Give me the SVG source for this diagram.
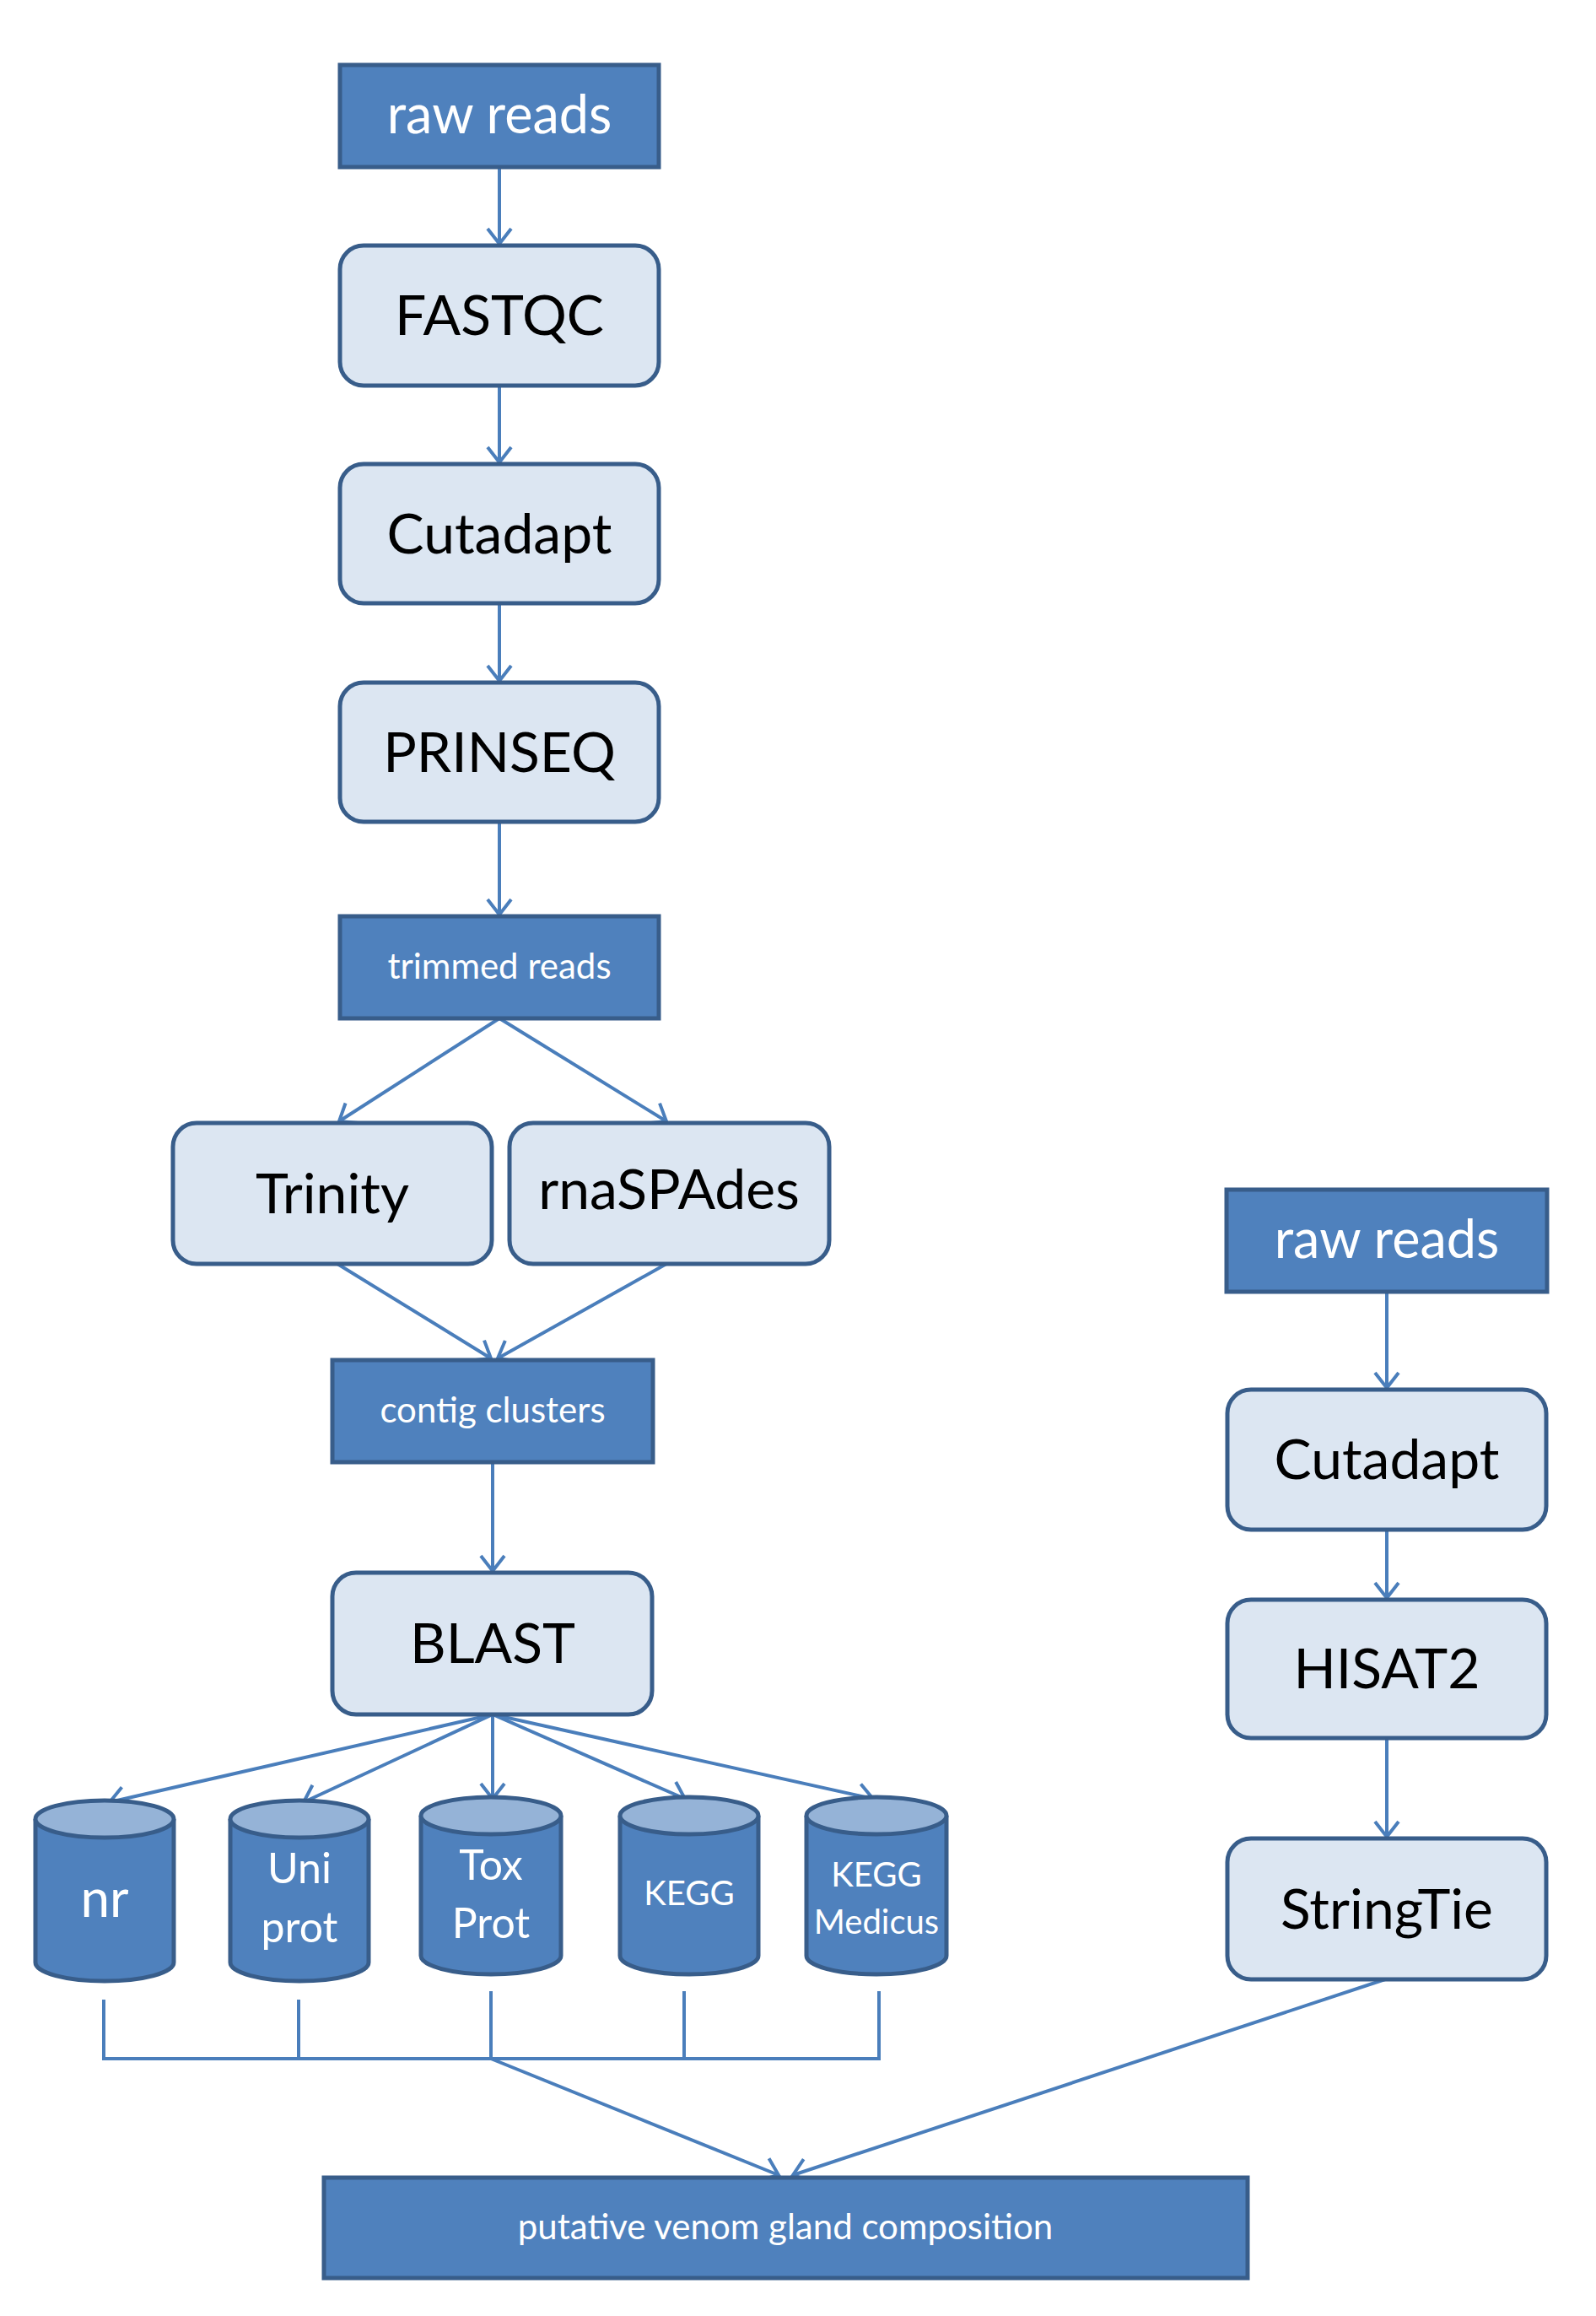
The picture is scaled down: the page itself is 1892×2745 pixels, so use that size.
<svg xmlns="http://www.w3.org/2000/svg" width="1892" height="2745" viewBox="0 0 1892 2745">
<style>
.d{fill:#4f81bd;stroke:#385d8a;stroke-width:5}
.l{fill:#dce6f2;stroke:#385d8a;stroke-width:5}
.c{fill:none;stroke:#4a7ebb;stroke-width:4}
.tw{fill:#fff;font-family:Lato,"Open Sans",sans-serif;text-anchor:middle}
.tb{fill:#000;font-family:Lato,"Open Sans",sans-serif;text-anchor:middle;font-size:66px}
.top{fill:#95b3d7;stroke:#385d8a;stroke-width:5}
</style>
<defs>
<marker id="a" markerUnits="userSpaceOnUse" markerWidth="40" markerHeight="40" refX="20" refY="20" orient="auto">
<path d="M2,6 L20,20 L2,34" fill="none" stroke="#4a7ebb" stroke-width="4"/>
</marker>
</defs>
<g id="connectors" class="c">
<line x1="592" y1="198" x2="592" y2="289" marker-end="url(#a)"/>
<line x1="592" y1="457" x2="592" y2="548" marker-end="url(#a)"/>
<line x1="592" y1="715" x2="592" y2="807" marker-end="url(#a)"/>
<line x1="592" y1="974" x2="592" y2="1084" marker-end="url(#a)"/>
<line x1="592" y1="1207" x2="402" y2="1329" marker-end="url(#a)"/>
<line x1="592" y1="1207" x2="790" y2="1329" marker-end="url(#a)"/>
<line x1="400" y1="1498" x2="582" y2="1610" marker-end="url(#a)"/>
<line x1="790" y1="1498" x2="590" y2="1610" marker-end="url(#a)"/>
<line x1="584" y1="1733" x2="584" y2="1862" marker-end="url(#a)"/>
<line x1="584" y1="2032" x2="130" y2="2136" marker-end="url(#a)"/>
<line x1="584" y1="2032" x2="360" y2="2136" marker-end="url(#a)"/>
<line x1="584" y1="2032" x2="584" y2="2132" marker-end="url(#a)"/>
<line x1="584" y1="2032" x2="812" y2="2132" marker-end="url(#a)"/>
<line x1="584" y1="2032" x2="1035" y2="2132" marker-end="url(#a)"/>
<polyline points="123,2370 123,2440 1042,2440 1042,2360"/>
<line x1="354" y1="2370" x2="354" y2="2440"/>
<line x1="582" y1="2360" x2="582" y2="2440"/>
<line x1="811" y1="2360" x2="811" y2="2440"/>
<line x1="582" y1="2440" x2="923" y2="2578" marker-end="url(#a)"/>
<line x1="1642" y1="2346" x2="940" y2="2578" marker-end="url(#a)"/>
<line x1="1644" y1="1531" x2="1644" y2="1645" marker-end="url(#a)"/>
<line x1="1644" y1="1813" x2="1644" y2="1894" marker-end="url(#a)"/>
<line x1="1644" y1="2060" x2="1644" y2="2177" marker-end="url(#a)"/>
</g>
<g id="raw1"><rect class="d" x="403" y="77" width="378" height="121"/><text class="tw" x="592" y="158" font-size="63">raw reads</text></g>
<g id="fastqc"><rect class="l" x="403" y="291" width="378" height="166" rx="28"/><text class="tb" x="592" y="397">FASTQC</text></g>
<g id="cutadapt1"><rect class="l" x="403" y="550" width="378" height="165" rx="28"/><text class="tb" x="592" y="656">Cutadapt</text></g>
<g id="prinseq"><rect class="l" x="403" y="809" width="378" height="165" rx="28"/><text class="tb" x="592" y="915">PRINSEQ</text></g>
<g id="trimmed"><rect class="d" x="403" y="1086" width="378" height="121"/><text class="tw" x="592" y="1160" font-size="42">trimmed reads</text></g>
<g id="trinity"><rect class="l" x="205" y="1331" width="378" height="167" rx="28"/><text class="tb" x="394" y="1438">Trinity</text></g>
<g id="rnaspades"><rect class="l" x="604" y="1331" width="379" height="167" rx="28"/><text class="tb" x="793" y="1433" font-size="56">rnaSPAdes</text></g>
<g id="contig"><rect class="d" x="394" y="1612" width="380" height="121"/><text class="tw" x="584" y="1686" font-size="42">contig clusters</text></g>
<g id="blast"><rect class="l" x="394" y="1864" width="379" height="168" rx="28"/><text class="tb" x="584" y="1971">BLAST</text></g>
<g id="nr"><path class="d" d="M42,2156 V2326 A82,22 0 0 0 206,2326 V2156"/><ellipse class="top" cx="124" cy="2156" rx="82" ry="22"/><text class="tw" x="124" y="2272" font-size="62">nr</text></g>
<g id="uniprot"><path class="d" d="M273,2156 V2326 A82,22 0 0 0 437,2326 V2156"/><ellipse class="top" cx="355" cy="2156" rx="82" ry="22"/><text class="tw" x="355" y="2232" font-size="50">Uni</text><text class="tw" x="355" y="2302" font-size="50">prot</text></g>
<g id="toxprot"><path class="d" d="M499,2152 V2318 A83,22 0 0 0 665,2318 V2152"/><ellipse class="top" cx="582" cy="2152" rx="83" ry="22"/><text class="tw" x="582" y="2228" font-size="50">Tox</text><text class="tw" x="582" y="2297" font-size="50">Prot</text></g>
<g id="kegg"><path class="d" d="M735,2152 V2318 A82,22 0 0 0 899,2318 V2152"/><ellipse class="top" cx="817" cy="2152" rx="82" ry="22"/><text class="tw" x="817" y="2258" font-size="40">KEGG</text></g>
<g id="keggmedicus"><path class="d" d="M956,2152 V2318 A83,22 0 0 0 1122,2318 V2152"/><ellipse class="top" cx="1039" cy="2152" rx="83" ry="22"/><text class="tw" x="1039" y="2236" font-size="40">KEGG</text><text class="tw" x="1039" y="2292" font-size="40">Medicus</text></g>
<g id="putative"><rect class="d" x="384" y="2581" width="1095" height="119"/><text class="tw" x="931" y="2654" font-size="42">putative venom gland composition</text></g>
<g id="raw2"><rect class="d" x="1454" y="1410" width="380" height="121"/><text class="tw" x="1644" y="1491" font-size="63">raw reads</text></g>
<g id="cutadapt2"><rect class="l" x="1455" y="1647" width="378" height="166" rx="28"/><text class="tb" x="1644" y="1753">Cutadapt</text></g>
<g id="hisat2"><rect class="l" x="1455" y="1896" width="378" height="164" rx="28"/><text class="tb" x="1644" y="2001">HISAT2</text></g>
<g id="stringtie"><rect class="l" x="1455" y="2179" width="378" height="167" rx="28"/><text class="tb" x="1644" y="2286">StringTie</text></g>
</svg>
